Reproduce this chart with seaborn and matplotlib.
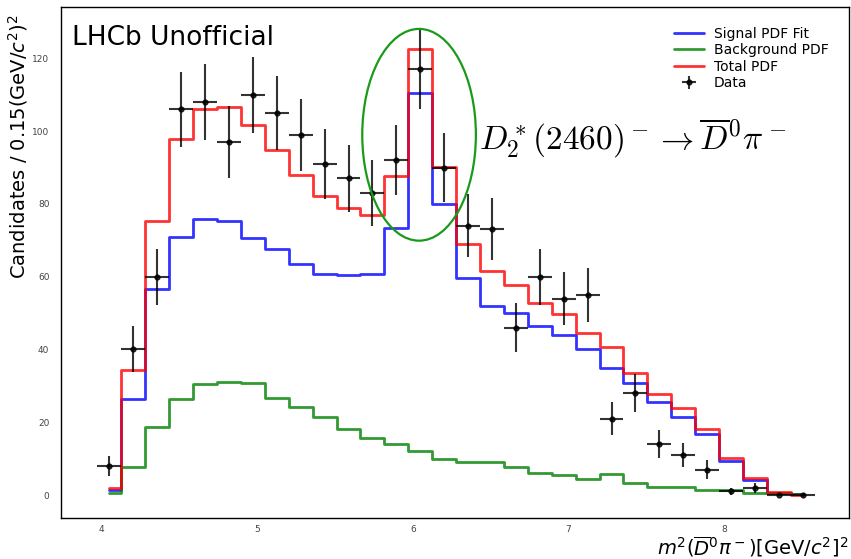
import numpy as np
import pandas as pd
import matplotlib
matplotlib.use("Agg")
import matplotlib.pyplot as plt
import seaborn as sns
from matplotlib.patches import Ellipse

# bin edges of the m^2(D0bar pi-) histogram (30 bins)
bin_edges = np.linspace(3.974, 8.582, 31)
bin_centers = 0.5 * (bin_edges[1:] + bin_edges[:-1])
half_width = 0.5 * (bin_edges[1] - bin_edges[0])

data_counts = [8, 40, 60, 106, 108, 97, 110, 105, 99, 91, 87, 83, 92, 117, 90,
               74, 73, 46, 60, 54, 55, 21, 28, 14, 11, 7, 1, 2, 0, 0]

signal_pdf = [1.5, 26.3, 56.6, 70.9, 75.8, 75.3, 70.7, 67.7, 63.5, 60.7, 60.4,
              60.7, 73.4, 110.5, 80.1, 59.6, 52.0, 50.0, 46.5, 44.0, 40.0, 34.9,
              30.8, 25.5, 21.4, 16.8, 9.4, 4.1, 0.6, 0.2]

background_pdf = [0.6, 7.8, 18.8, 26.5, 30.4, 31.0, 30.7, 26.8, 24.3, 21.4, 18.2,
                  15.7, 14.0, 12.2, 10.0, 9.1, 9.1, 7.6, 6.0, 5.5, 4.3, 5.7, 3.3,
                  2.3, 2.3, 1.3, 1.3, 0.5, 0.5, 0.3]

total_pdf = [2.0, 34.3, 75.3, 97.9, 106.2, 106.6, 101.6, 94.9, 88.0, 82.2, 78.8,
             76.9, 87.7, 122.7, 90.2, 69.0, 61.6, 57.8, 52.7, 49.7, 44.4, 40.6,
             33.5, 27.8, 23.9, 18.2, 10.1, 4.7, 0.8, 0.1]

# annotation of the D2*(2460) peak
peak_center = (6.04, 99.0)
peak_size = (0.73, 58.2)

sns.set_style("white")
plt.rcParams["text.color"] = "black"
plt.rcParams["axes.labelcolor"] = "black"

fig = plt.figure(figsize=(8.51, 5.59), dpi=100)
ax = fig.add_axes([0.0711, 0.0728, 0.9262, 0.9152])

curves = [("Signal PDF Fit", signal_pdf, "b"),
          ("Background PDF", background_pdf, "g"),
          ("Total PDF", total_pdf, "r")]
for name, vals, col in curves:
    sns.lineplot(x=bin_centers, y=vals, drawstyle="steps-mid", color=col,
                 alpha=0.8, lw=2, label=name, estimator=None, sort=False,
                 errorbar=None, ax=ax)

counts = np.array(data_counts, dtype=float)
ax.errorbar(bin_centers, counts, xerr=half_width, yerr=np.sqrt(counts),
            fmt="o", color="k", markersize=3.5, elinewidth=1.5, capsize=0,
            alpha=0.8, label="Data")

ax.add_patch(Ellipse(peak_center, peak_size[0], peak_size[1], fill=False,
                     edgecolor="#1a9a1a", lw=1.6, zorder=5))
ax.text(6.423, 94.9, r"$D_2^*(2460)^- \to \overline{D}^0\pi^-$",
        fontsize=24, math_fontfamily="cm", ha="left", va="baseline")
ax.text(0.015, 0.926, "LHCb Unofficial", transform=ax.transAxes,
        fontsize=19, ha="left", va="baseline")

ax.set_xlim(3.7365, 8.80)
ax.set_ylim(-6.4, 134.2)
ax.set_xticks([4, 5, 6, 7, 8])
ax.set_yticks([0, 20, 40, 60, 80, 100, 120])
ax.tick_params(direction="in", length=4, width=0.8, color="#333333",
               labelsize=6.5, labelcolor="#444444")
ax.tick_params(axis="y", pad=8)
ax.tick_params(axis="x", pad=5)
for sp in ax.spines.values():
    sp.set_color("black")
    sp.set_linewidth(1.0)

ax.set_xlabel(r"$m^2(\overline{D}^0\pi^-)[\mathrm{GeV}/c^2]^2$", fontsize=14,
              loc="right", labelpad=0)
ax.set_ylabel(r"Candidates / 0.15(GeV/$c^2$)$^2$", fontsize=14, loc="top")
ax.yaxis.set_label_coords(-0.039, 0.986)

ax.legend(loc="upper right", frameon=False, fontsize=10, labelspacing=0.18,
          borderaxespad=1.05, handlelength=2.2, handletextpad=0.7)

fig.savefig("out.png", dpi=100)
